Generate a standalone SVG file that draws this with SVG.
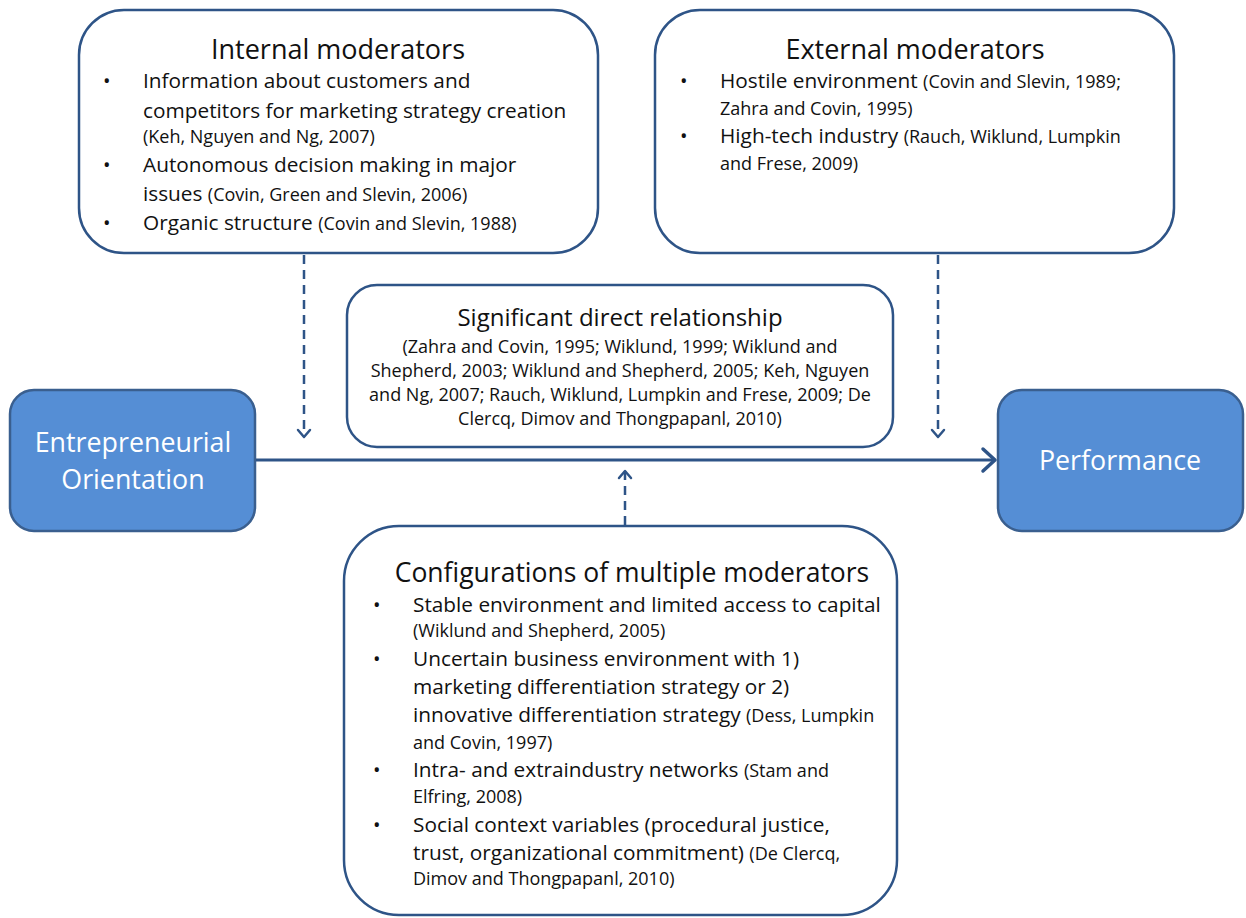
<svg xmlns="http://www.w3.org/2000/svg" width="1246" height="918" viewBox="0 0 1246 918">
<defs>
<style>
.box{fill:#ffffff;stroke:#2e5487;stroke-width:2.5}
.blue{fill:#558ed5;stroke:#3a5f8f;stroke-width:2.5}
text{font-family:"Open Sans","Liberation Sans",sans-serif;fill:#111111}
.title{font-size:27px;text-anchor:middle}
.body{font-size:20.8px}
.cite{font-size:18px}
.btitle{font-size:24px;text-anchor:middle}
.bcite{font-size:18px;text-anchor:middle}
.white{fill:#ffffff;font-size:26.8px;text-anchor:middle}
.bul{font-size:20px}
.line{stroke:#2e5487;stroke-width:3;fill:none}
.dash{stroke:#2e5487;stroke-width:2.5;fill:none;stroke-dasharray:9 6}
.head{stroke:#2e5487;stroke-width:2.5;fill:none;stroke-linecap:round;stroke-linejoin:round}
</style>
</defs>

<g id="internal">
<rect class="box" x="79" y="10" width="519" height="243" rx="45" ry="45"/>
<text class="title" x="338" y="59">Internal moderators</text>
<text class="bul" x="103" y="88">•</text>
<text class="body" x="143" y="88">Information about customers and</text>
<text class="body" x="143" y="118">competitors for marketing strategy creation</text>
<text class="cite" x="143" y="143">(Keh, Nguyen and Ng, 2007)</text>
<text class="bul" x="103" y="172">•</text>
<text class="body" x="143" y="172">Autonomous decision making in major</text>
<text class="body" x="143" y="201">issues <tspan class="cite">(Covin, Green and Slevin, 2006)</tspan></text>
<text class="bul" x="103" y="230">•</text>
<text class="body" x="143" y="230">Organic structure <tspan class="cite">(Covin and Slevin, 1988)</tspan></text>
</g>

<g id="external">
<rect class="box" x="655" y="10" width="519" height="243" rx="45" ry="45"/>
<text class="title" x="915" y="59">External moderators</text>
<text class="bul" x="680" y="88">•</text>
<text class="body" x="720" y="88">Hostile environment <tspan class="cite">(Covin and Slevin, 1989;</tspan></text>
<text class="cite" x="720" y="115">Zahra and Covin, 1995)</text>
<text class="bul" x="680" y="143">•</text>
<text class="body" x="720" y="143">High-tech industry <tspan class="cite">(Rauch, Wiklund, Lumpkin</tspan></text>
<text class="cite" x="720" y="170">and Frese, 2009)</text>
</g>

<g id="direct">
<rect class="box" x="347" y="285" width="546" height="162" rx="30" ry="30"/>
<text class="btitle" x="620" y="326">Significant direct relationship</text>
<text class="bcite" x="620" y="353">(Zahra and Covin, 1995; Wiklund, 1999; Wiklund and</text>
<text class="bcite" x="620" y="377">Shepherd, 2003; Wiklund and Shepherd, 2005; Keh, Nguyen</text>
<text class="bcite" x="620" y="401">and Ng, 2007; Rauch, Wiklund, Lumpkin and Frese, 2009; De</text>
<text class="bcite" x="620" y="425">Clercq, Dimov and Thongpapanl, 2010)</text>
</g>

<g id="eo">
<rect class="blue" x="10" y="390" width="245" height="141" rx="24" ry="24"/>
<text class="white" x="133" y="452">Entrepreneurial</text>
<text class="white" x="133" y="489">Orientation</text>
</g>

<g id="performance">
<rect class="blue" x="998" y="390" width="245" height="141" rx="24" ry="24"/>
<text class="white" x="1120" y="470">Performance</text>
</g>

<g id="configurations">
<rect class="box" x="344" y="526" width="553" height="389" rx="55" ry="55"/>
<text class="title" x="632" y="582" style="font-size:26.5px">Configurations of multiple moderators</text>
<text class="bul" x="373" y="612">•</text>
<text class="body" x="413" y="612">Stable environment and limited access to capital</text>
<text class="cite" x="413" y="637">(Wiklund and Shepherd, 2005)</text>
<text class="bul" x="373" y="666">•</text>
<text class="body" x="413" y="666">Uncertain business environment with 1)</text>
<text class="body" x="413" y="694">marketing differentiation strategy or 2)</text>
<text class="body" x="413" y="722">innovative differentiation strategy <tspan class="cite">(Dess, Lumpkin</tspan></text>
<text class="cite" x="413" y="749">and Covin, 1997)</text>
<text class="bul" x="373" y="777">•</text>
<text class="body" x="413" y="777">Intra- and extraindustry networks <tspan class="cite">(Stam and</tspan></text>
<text class="cite" x="413" y="803">Elfring, 2008)</text>
<text class="bul" x="373" y="832">•</text>
<text class="body" x="413" y="832">Social context variables (procedural justice,</text>
<text class="body" x="413" y="860">trust, organizational commitment) <tspan class="cite">(De Clercq,</tspan></text>
<text class="cite" x="413" y="885">Dimov and Thongpapanl, 2010)</text>
</g>

<g id="connectors">
<line class="line" x1="256" y1="460" x2="995" y2="460"/>
<polyline class="head" style="stroke-width:3.5" points="983,449 995,460 983,471"/>
<line class="dash" x1="304" y1="255" x2="304" y2="437"/>
<polyline class="head" points="298,430 304,437 310,430"/>
<line class="dash" x1="938" y1="255" x2="938" y2="437"/>
<polyline class="head" points="932,430 938,437 944,430"/>
<line class="dash" x1="625" y1="525" x2="625" y2="471"/>
<polyline class="head" points="619,478 625,471 631,478"/>
</g>
</svg>
